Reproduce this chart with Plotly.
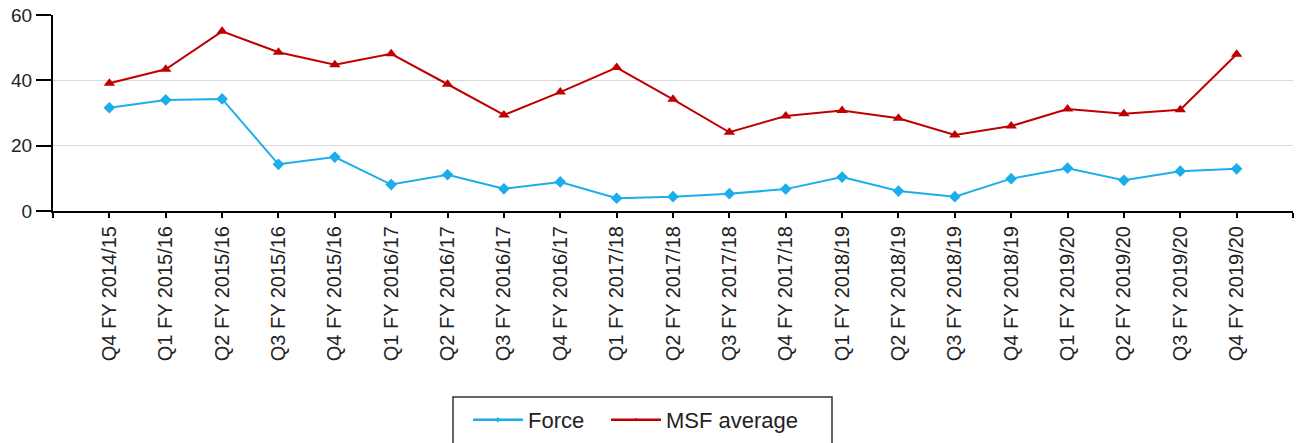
import plotly.graph_objects as go

quarters = [
    "Q4 FY 2014/15", "Q1 FY 2015/16", "Q2 FY 2015/16", "Q3 FY 2015/16", "Q4 FY 2015/16",
    "Q1 FY 2016/17", "Q2 FY 2016/17", "Q3 FY 2016/17", "Q4 FY 2016/17",
    "Q1 FY 2017/18", "Q2 FY 2017/18", "Q3 FY 2017/18", "Q4 FY 2017/18",
    "Q1 FY 2018/19", "Q2 FY 2018/19", "Q3 FY 2018/19", "Q4 FY 2018/19",
    "Q1 FY 2019/20", "Q2 FY 2019/20", "Q3 FY 2019/20", "Q4 FY 2019/20",
]
force = [31.6, 34.0, 34.3, 14.3, 16.5, 8.1, 11.1, 6.8, 8.9, 3.9, 4.4, 5.3, 6.7,
         10.4, 6.1, 4.4, 9.9, 13.1, 9.4, 12.2, 12.9]
msf = [39.1, 43.4, 55.0, 48.6, 44.8, 48.1, 38.8, 29.4, 36.4, 43.9, 34.2, 24.1, 29.1,
       30.8, 28.4, 23.3, 26.0, 31.2, 29.8, 31.0, 48.0]
series_names = ["Force", "MSF average"]
y_ticks = [0, 20, 40, 60]

BLUE = "#1BAEEA"
RED = "#C00000"
font_family = "Liberation Sans, Arial, sans-serif"

W, H = 1298, 443
ML, MR, MT, MB = 53, 5, 15, 232
PW, PH = W - ML - MR, H - MT - MB

def px_to_paper_x(px):
    return (px - ML) / PW

def py_to_paper_y(py):
    return 1 - (py - MT) / PH

xpos = list(range(len(quarters)))

fig = go.Figure()
fig.add_trace(go.Scatter(
    x=xpos, y=force, name=series_names[0], mode="lines+markers",
    line=dict(color=BLUE, width=2),
    marker=dict(symbol="diamond", size=9, color=BLUE),
    showlegend=False,
))
fig.add_trace(go.Scatter(
    x=xpos, y=msf, name=series_names[1], mode="lines+markers",
    line=dict(color=RED, width=2),
    marker=dict(symbol="triangle-up", size=10, color=RED),
    showlegend=False,
))
# legend entries (small markers like the reference legend)
fig.add_trace(go.Scatter(
    x=[None], y=[None], name=series_names[0], mode="lines+markers",
    line=dict(color=BLUE, width=2.5),
    marker=dict(symbol="diamond", size=4, color=BLUE),
    legend="legend",
))
fig.add_trace(go.Scatter(
    x=[None], y=[None], name=series_names[1], mode="lines+markers",
    line=dict(color=RED, width=2.5),
    marker=dict(symbol="triangle-up", size=4, color=RED),
    legend="legend2",
))

tickvals = [-1] + xpos + [len(quarters)]
ticktext = [""] + quarters + [""]

legend_common = dict(
    orientation="h",
    xref="container", yref="container",
    xanchor="left", yanchor="middle",
    y=1 - 420 / H,
    borderwidth=0, bgcolor="rgba(0,0,0,0)",
    font=dict(size=22, color="#222222", family=font_family),
    itemwidth=50,
)

fig.update_layout(
    width=W, height=H,
    margin=dict(l=ML, r=MR, t=MT, b=MB, autoexpand=False),
    plot_bgcolor="white", paper_bgcolor="white",
    font=dict(family=font_family, size=19, color="#222222"),
    showlegend=True,
    legend=dict(legend_common, x=468 / W),
    legend2=dict(legend_common, x=606 / W),
    xaxis=dict(
        range=[-1, len(quarters)],
        tickmode="array", tickvals=tickvals, ticktext=ticktext,
        tickangle=-90,
        showline=True, linecolor="black", linewidth=2,
        ticks="outside", ticklen=5, tickcolor="black", tickwidth=2,
        showgrid=False, zeroline=False,
        tickfont=dict(size=20),
        ticklabeloverflow="allow",
    ),
    yaxis=dict(
        range=[0, 60], tickvals=y_ticks,
        showline=True, linecolor="black", linewidth=2,
        ticks="outside", ticklen=15, tickcolor="black", tickwidth=2,
        showgrid=True, gridcolor="#D9D9D9", gridwidth=1,
        zeroline=False,
        tickfont=dict(size=19),
        ticklabeloverflow="allow",
    ),
    shapes=[dict(
        type="rect", xref="paper", yref="paper",
        x0=px_to_paper_x(453), x1=px_to_paper_x(832),
        y0=py_to_paper_y(470), y1=py_to_paper_y(397),
        line=dict(color="#333333", width=1.5),
        fillcolor="rgba(0,0,0,0)",
    )],
)

fig.write_html(
    "out.html",
    config={"displayModeBar": False},
    post_script="document.body.style.margin='0';document.body.style.overflow='hidden';",
)
